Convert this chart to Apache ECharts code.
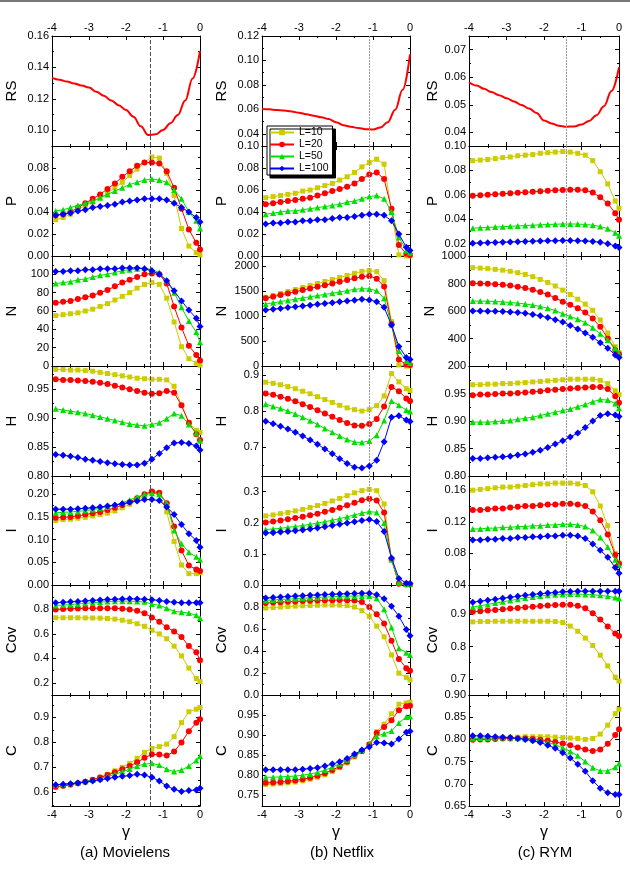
<!DOCTYPE html>
<html>
<head>
<meta charset="utf-8">
<script src="https://cdn.jsdelivr.net/npm/echarts@6.0.0/dist/echarts.min.js"></script>
<style>
  html, body { margin: 0; padding: 0; background: #fff; }
  #J_chart { width: 630px; height: 870px; }
</style>
</head>
<body>
<div id="J_chart"></div>
<script>
// gamma grid of the marked curves, and of the smooth RS curves
const gamma = [-3.9, -3.7, -3.5, -3.3, -3.1, -2.9, -2.7, -2.5, -2.3, -2.1, -1.9, -1.7, -1.5, -1.3, -1.1, -0.9, -0.7, -0.5, -0.3, -0.1, 0];
const gammaRS = [-4, -3.8, -3.6, -3.4, -3.2, -3, -2.8, -2.6, -2.4, -2.2, -2, -1.8, -1.6, -1.4, -1.2, -1, -0.8, -0.6, -0.4, -0.2, 0];
const seriesNames = ['L=10', 'L=20', 'L=50', 'L=100'];
const rowNames = ['RS', 'P', 'N', 'H', 'I', 'Cov', 'C'];
const captions = ['(a) Movielens', '(b) Netflix', '(c) RYM'];
const optGamma = [-1.35, -1.1, -1.4];
const xLabels = [-4, -3, -2, -1, 0];
const xMinor = [-3.5, -2.5, -1.5, -0.5];

// (a) Movielens
const mlRS = [0.1334, 0.1322, 0.1310, 0.1298, 0.1285, 0.1272, 0.1245, 0.1220, 0.1190, 0.1160, 0.1129, 0.1086, 0.1025, 0.0970, 0.0974, 0.1002, 0.1045, 0.1097, 0.1190, 0.1330, 0.1505];
const mlP = [
    [0.033, 0.035, 0.038, 0.042, 0.046, 0.049, 0.053, 0.057, 0.062, 0.067, 0.073, 0.079, 0.085, 0.090, 0.089, 0.075, 0.055, 0.025, 0.009, 0.003, 0.001],
    [0.037, 0.038, 0.040, 0.044, 0.048, 0.052, 0.056, 0.061, 0.066, 0.072, 0.077, 0.082, 0.085, 0.085, 0.084, 0.077, 0.062, 0.043, 0.024, 0.012, 0.006],
    [0.041, 0.042, 0.044, 0.046, 0.048, 0.050, 0.053, 0.056, 0.059, 0.062, 0.065, 0.067, 0.069, 0.070, 0.069, 0.067, 0.060, 0.052, 0.040, 0.032, 0.025],
    [0.037, 0.038, 0.039, 0.041, 0.042, 0.044, 0.045, 0.046, 0.047, 0.049, 0.050, 0.051, 0.052, 0.052, 0.052, 0.051, 0.048, 0.044, 0.040, 0.035, 0.031]
];
const mlN = [
    [55, 56, 57, 58, 60, 62, 65, 68, 72, 76, 80, 85, 89, 91, 89, 74, 48, 21, 8, 3, 1],
    [69, 70, 71, 73, 75, 77, 80, 83, 87, 91, 94, 97, 100, 101, 100, 90, 65, 42, 22, 12, 6],
    [90, 91, 92, 94, 95, 97, 99, 100, 102, 104, 105, 106, 107, 105, 102, 93, 80, 64, 49, 37, 26],
    [103, 103, 104, 104, 105, 105, 106, 106, 106, 107, 107, 107, 106, 104, 100, 93, 82, 71, 61, 52, 43]
];
const mlH = [
    [0.984, 0.984, 0.983, 0.983, 0.982, 0.981, 0.979, 0.977, 0.975, 0.973, 0.971, 0.969, 0.968, 0.967, 0.967, 0.966, 0.955, 0.922, 0.892, 0.879, 0.875],
    [0.967, 0.966, 0.966, 0.965, 0.964, 0.963, 0.961, 0.959, 0.956, 0.953, 0.950, 0.947, 0.944, 0.942, 0.943, 0.947, 0.944, 0.922, 0.892, 0.872, 0.862],
    [0.916, 0.914, 0.912, 0.910, 0.908, 0.905, 0.902, 0.899, 0.896, 0.893, 0.890, 0.888, 0.887, 0.889, 0.892, 0.899, 0.908, 0.904, 0.889, 0.874, 0.861],
    [0.837, 0.836, 0.834, 0.832, 0.829, 0.827, 0.825, 0.823, 0.821, 0.820, 0.819, 0.819, 0.822, 0.829, 0.839, 0.849, 0.857, 0.858, 0.856, 0.852, 0.845]
];
const mlI = [
    [0.142, 0.144, 0.145, 0.147, 0.149, 0.152, 0.155, 0.158, 0.163, 0.170, 0.178, 0.187, 0.197, 0.205, 0.200, 0.161, 0.096, 0.044, 0.025, 0.025, 0.027],
    [0.148, 0.149, 0.150, 0.152, 0.155, 0.158, 0.161, 0.165, 0.170, 0.176, 0.183, 0.191, 0.200, 0.206, 0.203, 0.180, 0.129, 0.076, 0.043, 0.034, 0.031],
    [0.159, 0.160, 0.161, 0.162, 0.164, 0.166, 0.169, 0.172, 0.176, 0.181, 0.187, 0.194, 0.199, 0.202, 0.200, 0.180, 0.120, 0.091, 0.072, 0.062, 0.056],
    [0.167, 0.167, 0.167, 0.168, 0.169, 0.170, 0.172, 0.174, 0.176, 0.179, 0.182, 0.185, 0.188, 0.188, 0.186, 0.172, 0.155, 0.133, 0.113, 0.098, 0.083]
];
const mlCov = [
    [0.732, 0.732, 0.732, 0.732, 0.731, 0.730, 0.729, 0.726, 0.721, 0.712, 0.700, 0.683, 0.662, 0.630, 0.600, 0.560, 0.500, 0.420, 0.320, 0.235, 0.210],
    [0.800, 0.803, 0.806, 0.808, 0.809, 0.810, 0.810, 0.810, 0.809, 0.806, 0.800, 0.790, 0.768, 0.735, 0.700, 0.655, 0.620, 0.575, 0.500, 0.450, 0.385],
    [0.832, 0.836, 0.840, 0.845, 0.850, 0.855, 0.860, 0.864, 0.867, 0.868, 0.868, 0.865, 0.862, 0.845, 0.833, 0.810, 0.785, 0.778, 0.770, 0.752, 0.729],
    [0.855, 0.858, 0.862, 0.866, 0.870, 0.874, 0.878, 0.881, 0.884, 0.886, 0.887, 0.886, 0.884, 0.880, 0.873, 0.865, 0.858, 0.855, 0.855, 0.855, 0.855]
];
const mlC = [
    [0.620, 0.625, 0.630, 0.636, 0.642, 0.650, 0.660, 0.672, 0.686, 0.700, 0.716, 0.736, 0.760, 0.776, 0.783, 0.793, 0.823, 0.879, 0.923, 0.933, 0.940],
    [0.622, 0.626, 0.631, 0.636, 0.642, 0.650, 0.659, 0.669, 0.680, 0.692, 0.705, 0.720, 0.738, 0.752, 0.751, 0.747, 0.763, 0.800, 0.845, 0.879, 0.893],
    [0.630, 0.633, 0.636, 0.640, 0.644, 0.649, 0.655, 0.663, 0.672, 0.683, 0.693, 0.705, 0.713, 0.716, 0.709, 0.692, 0.683, 0.689, 0.705, 0.727, 0.745],
    [0.630, 0.632, 0.634, 0.637, 0.641, 0.645, 0.650, 0.655, 0.660, 0.664, 0.667, 0.672, 0.669, 0.660, 0.645, 0.625, 0.612, 0.603, 0.607, 0.609, 0.616]
];

// (b) Netflix
const nfRS = [0.0603, 0.0600, 0.0595, 0.0590, 0.0583, 0.0572, 0.0560, 0.0548, 0.0535, 0.0520, 0.0495, 0.0470, 0.0458, 0.0447, 0.0438, 0.0435, 0.0451, 0.0495, 0.0597, 0.0760, 0.1050];
const nfP = [
    [0.053, 0.054, 0.055, 0.056, 0.057, 0.059, 0.060, 0.062, 0.064, 0.066, 0.069, 0.072, 0.076, 0.081, 0.085, 0.088, 0.0835, 0.040, 0.001, 0.000, 0.000],
    [0.047, 0.048, 0.049, 0.050, 0.051, 0.052, 0.053, 0.055, 0.057, 0.059, 0.061, 0.063, 0.066, 0.070, 0.074, 0.076, 0.070, 0.043, 0.010, 0.002, 0.001],
    [0.038, 0.039, 0.040, 0.041, 0.041, 0.042, 0.043, 0.044, 0.045, 0.046, 0.047, 0.049, 0.050, 0.052, 0.054, 0.055, 0.052, 0.040, 0.017, 0.005, 0.003],
    [0.029, 0.030, 0.030, 0.031, 0.031, 0.032, 0.032, 0.033, 0.033, 0.034, 0.035, 0.035, 0.036, 0.037, 0.038, 0.038, 0.037, 0.032, 0.020, 0.008, 0.005]
];
const nfN = [
    [1373, 1410, 1450, 1490, 1530, 1570, 1610, 1650, 1690, 1730, 1770, 1810, 1853, 1893, 1907, 1887, 1707, 887, 20, 0, 0],
    [1353, 1386, 1419, 1452, 1485, 1518, 1551, 1584, 1617, 1650, 1683, 1718, 1753, 1787, 1800, 1747, 1590, 840, 130, 30, 20],
    [1240, 1264, 1288, 1312, 1336, 1360, 1384, 1408, 1432, 1456, 1480, 1507, 1533, 1547, 1540, 1507, 1353, 830, 300, 100, 60],
    [1120, 1136, 1152, 1168, 1184, 1200, 1216, 1233, 1250, 1267, 1284, 1300, 1316, 1333, 1320, 1287, 1173, 820, 390, 170, 130]
];
const nfH = [
    [0.880, 0.877, 0.873, 0.868, 0.862, 0.855, 0.848, 0.840, 0.832, 0.824, 0.816, 0.809, 0.804, 0.800, 0.804, 0.815, 0.842, 0.904, 0.881, 0.862, 0.857],
    [0.849, 0.845, 0.840, 0.834, 0.827, 0.819, 0.811, 0.802, 0.793, 0.784, 0.775, 0.767, 0.760, 0.759, 0.764, 0.778, 0.813, 0.867, 0.855, 0.835, 0.828],
    [0.819, 0.813, 0.807, 0.800, 0.792, 0.783, 0.773, 0.763, 0.752, 0.741, 0.731, 0.721, 0.714, 0.713, 0.717, 0.733, 0.774, 0.828, 0.816, 0.803, 0.799],
    [0.772, 0.765, 0.758, 0.750, 0.741, 0.731, 0.720, 0.708, 0.695, 0.682, 0.668, 0.655, 0.644, 0.642, 0.648, 0.664, 0.715, 0.783, 0.787, 0.775, 0.771]
];
const nfI = [
    [0.222, 0.225, 0.229, 0.233, 0.238, 0.243, 0.249, 0.255, 0.262, 0.270, 0.278, 0.287, 0.296, 0.303, 0.307, 0.303, 0.260, 0.082, 0.005, 0.003, 0.003],
    [0.201, 0.204, 0.207, 0.211, 0.215, 0.219, 0.224, 0.229, 0.235, 0.241, 0.248, 0.256, 0.264, 0.272, 0.277, 0.271, 0.233, 0.082, 0.004, 0.002, 0.002],
    [0.178, 0.180, 0.182, 0.185, 0.188, 0.191, 0.195, 0.199, 0.203, 0.208, 0.213, 0.219, 0.225, 0.231, 0.236, 0.233, 0.199, 0.082, 0.007, 0.003, 0.003],
    [0.167, 0.168, 0.170, 0.172, 0.174, 0.177, 0.180, 0.183, 0.187, 0.191, 0.195, 0.199, 0.203, 0.207, 0.210, 0.204, 0.172, 0.087, 0.021, 0.006, 0.005]
];
const nfCov = [
    [0.791, 0.795, 0.800, 0.804, 0.808, 0.811, 0.814, 0.816, 0.818, 0.818, 0.817, 0.812, 0.800, 0.767, 0.716, 0.626, 0.529, 0.364, 0.198, 0.160, 0.138],
    [0.836, 0.840, 0.844, 0.848, 0.851, 0.854, 0.857, 0.859, 0.861, 0.862, 0.863, 0.862, 0.858, 0.845, 0.800, 0.734, 0.650, 0.493, 0.328, 0.244, 0.220],
    [0.860, 0.864, 0.868, 0.872, 0.876, 0.880, 0.884, 0.887, 0.890, 0.893, 0.896, 0.898, 0.900, 0.901, 0.899, 0.880, 0.780, 0.614, 0.424, 0.385, 0.364],
    [0.881, 0.886, 0.891, 0.895, 0.899, 0.903, 0.907, 0.910, 0.913, 0.916, 0.919, 0.921, 0.923, 0.925, 0.926, 0.911, 0.875, 0.806, 0.716, 0.596, 0.538]
];
const nfC = [
    [0.776, 0.777, 0.778, 0.780, 0.782, 0.785, 0.789, 0.794, 0.800, 0.808, 0.818, 0.830, 0.845, 0.858, 0.875, 0.908, 0.927, 0.953, 0.977, 0.980, 0.982],
    [0.780, 0.781, 0.782, 0.784, 0.786, 0.789, 0.793, 0.798, 0.804, 0.812, 0.821, 0.833, 0.848, 0.860, 0.876, 0.905, 0.920, 0.937, 0.962, 0.972, 0.973],
    [0.794, 0.794, 0.795, 0.796, 0.797, 0.799, 0.802, 0.806, 0.812, 0.819, 0.828, 0.838, 0.850, 0.862, 0.876, 0.897, 0.903, 0.910, 0.930, 0.945, 0.946],
    [0.813, 0.813, 0.813, 0.813, 0.813, 0.814, 0.816, 0.818, 0.822, 0.827, 0.833, 0.841, 0.852, 0.862, 0.870, 0.881, 0.880, 0.877, 0.890, 0.907, 0.909]
];

// (c) RYM
const ryRS = [0.0582, 0.0570, 0.0558, 0.0546, 0.0535, 0.0524, 0.0512, 0.0499, 0.0486, 0.0470, 0.0443, 0.0432, 0.0424, 0.0420, 0.0421, 0.0428, 0.0441, 0.0462, 0.0495, 0.0550, 0.0637];
const ryP = [
    [0.088, 0.0885, 0.089, 0.0897, 0.0905, 0.091, 0.092, 0.0925, 0.093, 0.094, 0.0945, 0.095, 0.0955, 0.095, 0.094, 0.0925, 0.088, 0.079, 0.069, 0.055, 0.049],
    [0.0593, 0.0597, 0.0601, 0.0605, 0.0609, 0.0613, 0.0617, 0.0621, 0.0625, 0.0629, 0.0633, 0.0637, 0.0641, 0.0643, 0.0642, 0.0638, 0.0620, 0.0580, 0.0530, 0.0450, 0.0396],
    [0.0328, 0.0331, 0.0334, 0.0337, 0.0340, 0.0343, 0.0346, 0.0349, 0.0352, 0.0355, 0.0358, 0.0360, 0.0362, 0.0362, 0.0361, 0.0358, 0.0352, 0.0342, 0.0323, 0.0290, 0.0266],
    [0.0205, 0.0207, 0.0209, 0.0211, 0.0213, 0.0215, 0.0217, 0.0219, 0.0221, 0.0223, 0.0224, 0.0225, 0.0226, 0.0226, 0.0225, 0.0223, 0.0219, 0.0212, 0.0200, 0.0182, 0.0170]
];
const ryN = [
    [915, 912, 908, 903, 897, 889, 879, 866, 850, 830, 808, 782, 752, 720, 686, 650, 605, 535, 440, 340, 297],
    [801, 800, 798, 795, 791, 785, 777, 767, 754, 738, 720, 695, 668, 645, 620, 590, 545, 485, 400, 315, 285],
    [673, 672, 671, 669, 666, 662, 657, 651, 643, 633, 620, 603, 580, 560, 540, 515, 478, 435, 390, 330, 290],
    [600, 600, 599, 598, 596, 593, 589, 583, 575, 565, 552, 537, 520, 495, 470, 440, 410, 370, 330, 280, 261]
];
const ryH = [
    [0.966, 0.966, 0.967, 0.967, 0.968, 0.968, 0.969, 0.970, 0.971, 0.972, 0.973, 0.974, 0.975, 0.976, 0.976, 0.976, 0.976, 0.974, 0.968, 0.955, 0.948],
    [0.947, 0.948, 0.948, 0.949, 0.950, 0.950, 0.951, 0.952, 0.953, 0.954, 0.956, 0.957, 0.958, 0.959, 0.960, 0.961, 0.962, 0.962, 0.958, 0.945, 0.933],
    [0.898, 0.898, 0.898, 0.899, 0.900, 0.901, 0.903, 0.905, 0.907, 0.910, 0.913, 0.916, 0.919, 0.922, 0.926, 0.930, 0.935, 0.939, 0.938, 0.932, 0.923],
    [0.832, 0.832, 0.833, 0.834, 0.835, 0.836, 0.838, 0.840, 0.843, 0.847, 0.852, 0.858, 0.864, 0.871, 0.878, 0.888, 0.900, 0.910, 0.913, 0.911, 0.908]
];
const ryI = [
    [0.160, 0.161, 0.162, 0.163, 0.164, 0.164, 0.165, 0.166, 0.167, 0.168, 0.168, 0.169, 0.169, 0.169, 0.168, 0.166, 0.158, 0.140, 0.115, 0.080, 0.068],
    [0.135, 0.135, 0.136, 0.137, 0.137, 0.138, 0.139, 0.140, 0.140, 0.141, 0.142, 0.142, 0.143, 0.143, 0.142, 0.140, 0.133, 0.122, 0.104, 0.078, 0.067],
    [0.111, 0.111, 0.112, 0.112, 0.113, 0.113, 0.114, 0.114, 0.115, 0.115, 0.116, 0.116, 0.117, 0.117, 0.116, 0.114, 0.109, 0.100, 0.088, 0.072, 0.065],
    [0.097, 0.097, 0.098, 0.098, 0.099, 0.099, 0.100, 0.100, 0.101, 0.101, 0.102, 0.102, 0.103, 0.103, 0.102, 0.099, 0.092, 0.084, 0.075, 0.062, 0.055]
];
const ryCov = [
    [0.876, 0.877, 0.877, 0.878, 0.878, 0.878, 0.878, 0.878, 0.878, 0.878, 0.878, 0.877, 0.874, 0.863, 0.847, 0.826, 0.803, 0.773, 0.740, 0.705, 0.693],
    [0.907, 0.909, 0.911, 0.913, 0.915, 0.917, 0.919, 0.921, 0.923, 0.925, 0.927, 0.928, 0.929, 0.929, 0.926, 0.918, 0.903, 0.883, 0.862, 0.840, 0.832],
    [0.922, 0.926, 0.930, 0.934, 0.938, 0.942, 0.946, 0.950, 0.953, 0.956, 0.958, 0.960, 0.961, 0.962, 0.962, 0.961, 0.960, 0.958, 0.955, 0.951, 0.948],
    [0.937, 0.940, 0.943, 0.946, 0.949, 0.952, 0.955, 0.958, 0.961, 0.963, 0.965, 0.967, 0.969, 0.970, 0.971, 0.971, 0.971, 0.971, 0.971, 0.971, 0.971]
];
const ryC = [
    [0.802, 0.803, 0.803, 0.804, 0.804, 0.805, 0.805, 0.806, 0.806, 0.806, 0.806, 0.805, 0.804, 0.803, 0.802, 0.800, 0.802, 0.812, 0.832, 0.858, 0.868],
    [0.799, 0.800, 0.800, 0.801, 0.802, 0.802, 0.802, 0.802, 0.801, 0.799, 0.797, 0.794, 0.791, 0.787, 0.782, 0.777, 0.774, 0.777, 0.790, 0.810, 0.823],
    [0.802, 0.803, 0.803, 0.804, 0.804, 0.804, 0.803, 0.802, 0.800, 0.797, 0.793, 0.788, 0.781, 0.773, 0.763, 0.750, 0.736, 0.729, 0.729, 0.737, 0.746],
    [0.808, 0.808, 0.807, 0.806, 0.805, 0.804, 0.802, 0.800, 0.797, 0.793, 0.787, 0.780, 0.770, 0.758, 0.744, 0.728, 0.707, 0.690, 0.680, 0.676, 0.676]
];

const rsData = [mlRS, nfRS, ryRS];
const panelData = [
    [mlP, mlN, mlH, mlI, mlCov, mlC],
    [nfP, nfN, nfH, nfI, nfCov, nfC],
    [ryP, ryN, ryH, ryI, ryCov, ryC]
];

// y scales: [min, max, labelled ticks, minor ticks, decimals]
const yScales = [
    [
        [0.09, 0.16, [0.10, 0.12, 0.14, 0.16], [0.11, 0.13, 0.15], 2],
        [0, 0.10, [0, 0.02, 0.04, 0.06, 0.08], [0.01, 0.03, 0.05, 0.07, 0.09], 2],
        [0, 120, [0, 20, 40, 60, 80, 100], [10, 30, 50, 70, 90, 110], 0],
        [0.80, 0.99, [0.80, 0.85, 0.90, 0.95], [0.825, 0.875, 0.925, 0.975], 2],
        [0, 0.24, [0, 0.05, 0.10, 0.15, 0.20], [0.025, 0.075, 0.125, 0.175, 0.225], 2],
        [0.1, 1.0, [0.2, 0.4, 0.6, 0.8], [0.3, 0.5, 0.7, 0.9], 1],
        [0.545, 0.99, [0.6, 0.7, 0.8, 0.9], [0.55, 0.65, 0.75, 0.85, 0.95], 1]
    ],
    [
        [0.03, 0.12, [0.04, 0.06, 0.08, 0.10, 0.12], [0.05, 0.07, 0.09, 0.11], 2],
        [0, 0.10, [0, 0.02, 0.04, 0.06, 0.08, 0.10], [0.01, 0.03, 0.05, 0.07, 0.09], 2],
        [0, 2200, [0, 500, 1000, 1500, 2000], [250, 750, 1250, 1750], 0],
        [0.62, 0.925, [0.7, 0.8, 0.9], [0.65, 0.75, 0.85], 1],
        [0, 0.35, [0, 0.1, 0.2, 0.3], [0.05, 0.15, 0.25], 1],
        [0, 1.0, [0, 0.2, 0.4, 0.6, 0.8], [0.1, 0.3, 0.5, 0.7, 0.9], 1],
        [0.722, 1.0, [0.75, 0.80, 0.85, 0.90, 0.95], [0.775, 0.825, 0.875, 0.925, 0.975], 2]
    ],
    [
        [0.035, 0.075, [0.04, 0.05, 0.06, 0.07], [0.045, 0.055, 0.065], 2],
        [0.01, 0.10, [0.02, 0.04, 0.06, 0.08, 0.10], [0.03, 0.05, 0.07, 0.09], 2],
        [200, 1000, [200, 400, 600, 800, 1000], [300, 500, 700, 900], 0],
        [0.80, 1.0, [0.80, 0.85, 0.90, 0.95], [0.825, 0.875, 0.925, 0.975], 2],
        [0.04, 0.178, [0.04, 0.08, 0.12, 0.16], [0.06, 0.10, 0.14], 2],
        [0.65, 0.99, [0.7, 0.8, 0.9], [0.75, 0.85, 0.95], 1],
        [0.65, 0.90, [0.65, 0.70, 0.75, 0.80, 0.85, 0.90], [0.675, 0.725, 0.775, 0.825, 0.875], 2]
    ]
];

const FONT = 'Liberation Sans, Arial, sans-serif';
const COLORS = ['#CCCC00', '#FF0000', '#00E000', '#0000FF'];
const SYMBOLS = ['rect', 'circle', 'triangle', 'diamond'];
const SYMBOL_SIZE = [5, 6, 6, 7];
const COL_LEFT = [52, 262, 469];
const COL_WIDTH = [148, 148, 150];
const ROW_TOP = [36, 146, 256, 366, 476, 585, 695];
const ROW_H = [110, 110, 110, 110, 109, 110, 111];
const NAME_GAP = [33, 33, 29];
const DASH = [
    {color: '#222', type: [4, 2], width: 0.8},
    {color: '#999', type: [2, 1], width: 1},
    {color: '#999', type: [2, 1], width: 1}
];

function makeAxis(g, pos, min, max, ticks, minor, labels, fmt) {
    return {
        type: 'value',
        gridIndex: g,
        position: pos,
        min: min,
        max: max,
        splitLine: {show: false},
        axisLine: {show: !minor, onZero: false, lineStyle: {color: '#000', width: 1}},
        axisTick: {
            show: true,
            inside: true,
            length: minor ? 2 : 4,
            customValues: ticks,
            lineStyle: {color: '#000', width: 1}
        },
        axisLabel: labels ? {
            show: true,
            customValues: labels,
            formatter: fmt,
            margin: 3,
            fontSize: 11,
            color: '#000',
            fontFamily: FONT
        } : {show: false}
    };
}

let grids = [], xAxes = [], yAxes = [], series = [];

for (let c = 0; c < 3; c++) {
    for (let r = 0; r < 7; r++) {
        let g = grids.length;
        grids.push({left: COL_LEFT[c], top: ROW_TOP[r], width: COL_WIDTH[c], height: ROW_H[r]});

        let xfmt = v => String(v);
        let bottom = makeAxis(g, 'bottom', -4, 0, xLabels, false, r == 6 ? xLabels : null, xfmt);
        if (r == 6) {
            bottom.name = 'γ';
            bottom.nameLocation = 'middle';
            bottom.nameGap = 19;
            bottom.nameTextStyle = {fontSize: 16, fontFamily: FONT, color: '#000'};
        }
        xAxes.push(bottom);
        xAxes.push(makeAxis(g, 'bottom', -4, 0, xMinor, true));
        xAxes.push(makeAxis(g, 'top', -4, 0, xLabels, false, r == 0 ? xLabels : null, xfmt));
        xAxes.push(makeAxis(g, 'top', -4, 0, xMinor, true));

        let s = yScales[c][r];
        let dec = s[4];
        let left = makeAxis(g, 'left', s[0], s[1], s[2], false, s[2], v => v.toFixed(dec));
        left.name = rowNames[r];
        left.nameLocation = 'middle';
        left.nameGap = NAME_GAP[c];
        left.nameTextStyle = {fontSize: 15, fontFamily: FONT, color: '#000'};
        yAxes.push(left);
        yAxes.push(makeAxis(g, 'left', s[0], s[1], s[3], true));
        yAxes.push(makeAxis(g, 'right', s[0], s[1], s[2], false));
        yAxes.push(makeAxis(g, 'right', s[0], s[1], s[3], true));

        let markLine = {
            silent: true,
            symbol: ['none', 'none'],
            label: {show: false},
            lineStyle: DASH[c],
            data: [{xAxis: optGamma[c]}]
        };

        if (r == 0) {
            series.push({
                type: 'line',
                xAxisIndex: 4 * g,
                yAxisIndex: 4 * g,
                data: gammaRS.map((x, i) => [x, rsData[c][i]]),
                smooth: 0.4,
                smoothMonotone: 'x',
                showSymbol: false,
                lineStyle: {color: '#FF0000', width: 2},
                markLine: markLine,
                z: 3
            });
        } else {
            let d = panelData[c][r - 1];
            for (let k = 0; k < 4; k++) {
                let one = {
                    type: 'line',
                    name: seriesNames[k],
                    xAxisIndex: 4 * g,
                    yAxisIndex: 4 * g,
                    data: gamma.map((x, i) => [x, d[k][i]]),
                    symbol: SYMBOLS[k],
                    symbolSize: SYMBOL_SIZE[k],
                    color: COLORS[k],
                    itemStyle: {color: COLORS[k]},
                    lineStyle: {color: COLORS[k], width: 1},
                    z: 3 + k
                };
                if (k == 0) one.markLine = markLine;
                series.push(one);
            }
        }
    }
}

let graphics = [{
    type: 'rect',
    shape: {x: 0, y: 0, width: 630, height: 2},
    style: {fill: '#777'}
}];
const CAPTION_X = [125, 342, 545];
captions.forEach((t, c) => {
    graphics.push({
        type: 'text',
        x: CAPTION_X[c],
        y: 853,
        style: {text: t, font: '15px ' + FONT, fill: '#000', align: 'center', verticalAlign: 'middle'}
    });
});

let options = {
    animation: false,
    backgroundColor: '#fff',
    textStyle: {fontFamily: FONT},
    grid: grids,
    xAxis: xAxes,
    yAxis: yAxes,
    series: series,
    legend: {
        data: seriesNames,
        left: 267,
        top: 126,
        orient: 'vertical',
        selectedMode: false,
        itemWidth: 24,
        itemHeight: 7,
        itemGap: 1,
        padding: [1, 4, 1, 2],
        backgroundColor: '#fff',
        borderColor: '#000',
        borderWidth: 1,
        shadowColor: '#000',
        shadowBlur: 0,
        shadowOffsetX: 3,
        shadowOffsetY: 3,
        textStyle: {fontSize: 10.5, fontFamily: FONT, color: '#000'},
        z: 20
    },
    graphic: graphics
};

let chart = echarts.init(document.getElementById('J_chart'), null, {renderer: 'canvas'});
chart.setOption(options);
</script>
</body>
</html>
